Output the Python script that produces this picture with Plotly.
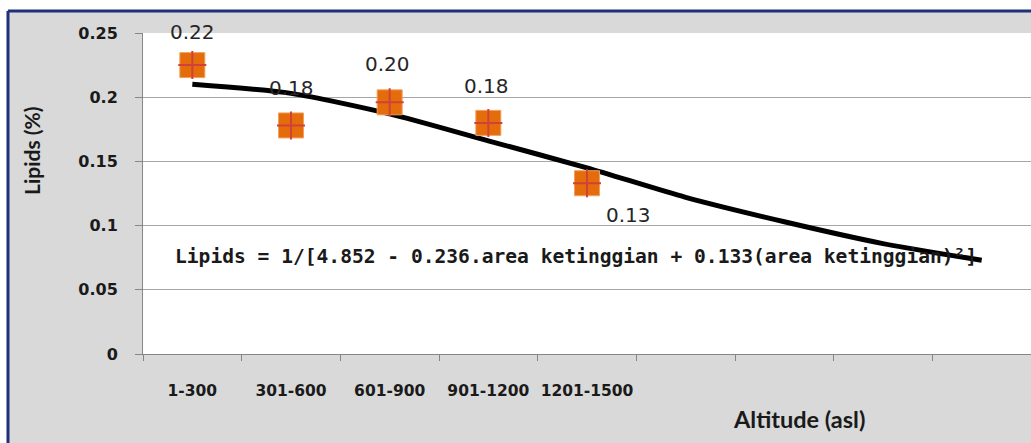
import plotly.graph_objects as go

# ---- data ----
categories = ["1-300", "301-600", "601-900", "901-1200", "1201-1500",
              " ", "  ", "   ", "    "]
observed_cats = ["1-300", "301-600", "601-900", "901-1200", "1201-1500"]
observed_lipids = [0.225, 0.178, 0.196, 0.180, 0.133]
observed_labels = ["0.22", "0.18", "0.20", "0.18", "0.13"]
trend_lipids = [0.210, 0.203, 0.187, 0.166, 0.145, 0.122, 0.103, 0.086, 0.073]
y_ticks = [0, 0.05, 0.1, 0.15, 0.2, 0.25]
equation = "Lipids = 1/[4.852 - 0.236.area ketinggian + 0.133(area ketinggian)²]"

W, H = 1031, 443
L, R, T, B = 143, 0, 33, 89
PW, PH = W - L - R, H - T - B

def px(x):
    return (x - L) / PW

def py(y):
    return (H - B - y) / PH

ORANGE = "#E46C0A"
CROSS = "#D2403A"
GRID = "#A6A6A6"
NAVY = "#1F2F7A"

fig = go.Figure()

fig.add_trace(go.Scatter(
    x=categories, y=trend_lipids, mode="lines",
    line=dict(color="black", width=5, shape="spline", smoothing=0.7),
    hoverinfo="skip", showlegend=False,
))
fig.add_trace(go.Scatter(
    x=observed_cats, y=observed_lipids, mode="markers",
    marker=dict(symbol="square", size=25, color=ORANGE,
                line=dict(color="#F0A060", width=1)),
    showlegend=False,
))
fig.add_trace(go.Scatter(
    x=observed_cats, y=observed_lipids, mode="markers",
    marker=dict(symbol="cross-thin", size=20, line=dict(color=CROSS, width=2)),
    hoverinfo="skip", showlegend=False,
))

# data labels
offsets = [(0, 33), (0, 37), (-2, 38), (-2, 37), (41, -32)]
for c, v, t, (dx, dy) in zip(observed_cats, observed_lipids, observed_labels, offsets):
    fig.add_annotation(x=c, y=v, xref="x", yref="y", text=t, showarrow=False,
                       xshift=dx, yshift=dy,
                       font=dict(family="DejaVu Sans", size=20, color="#262626"))

# equation
fig.add_annotation(x=px(173), y=py(256), xref="paper", yref="paper",
                   xanchor="left", yanchor="middle", showarrow=False,
                   text=equation,
                   font=dict(family="DejaVu Sans Mono", size=19.6, color="#1a1a1a",
                             weight="bold"))

# axis titles
fig.add_annotation(x=px(31), y=py(151), xref="paper", yref="paper",
                   text="Lipids (%)", textangle=-90, showarrow=False,
                   xanchor="center", yanchor="middle",
                   font=dict(family="Lato", size=21, color="#1a1a1a", weight="bold"))
fig.add_annotation(x=px(799), y=py(419), xref="paper", yref="paper",
                   text="Altitude (asl)", showarrow=False,
                   xanchor="center", yanchor="middle",
                   font=dict(family="Lato", size=23.5, color="#1a1a1a", weight="bold"))

# frame: white strips + navy border lines (top & left)
shapes = [
    dict(type="rect", xref="paper", yref="paper", x0=px(-5), x1=px(W + 5),
         y0=py(10), y1=py(-5), fillcolor="white", line=dict(width=0), layer="below"),
    dict(type="rect", xref="paper", yref="paper", x0=px(-5), x1=px(7),
         y0=py(H + 5), y1=py(-5), fillcolor="white", line=dict(width=0), layer="below"),
    dict(type="line", xref="paper", yref="paper", x0=px(8), x1=px(W + 5),
         y0=py(11), y1=py(11), line=dict(color=NAVY, width=3), layer="below"),
    dict(type="line", xref="paper", yref="paper", x0=px(8), x1=px(8),
         y0=py(11), y1=py(H + 5), line=dict(color=NAVY, width=3), layer="below"),
]

fig.update_layout(
    width=W, height=H,
    margin=dict(l=L, r=R, t=T, b=B, pad=0),
    paper_bgcolor="#D9D9D9",
    plot_bgcolor="white",
    shapes=shapes,
    showlegend=False,
    xaxis=dict(
        type="category", categoryorder="array", categoryarray=categories,
        range=[-0.5, len(categories) - 0.5],
        tickson="boundaries", ticks="outside", ticklen=6, tickcolor="#868686",
        showline=True, linecolor="#868686", linewidth=1,
        showgrid=False, zeroline=False, tickangle=0,
        tickfont=dict(family="DejaVu Sans", size=15.5, color="#1a1a1a", weight="bold"),
        ticklabelstandoff=22,
    ),
    yaxis=dict(
        range=[0, 0.25], tickvals=y_ticks,
        ticks="outside", ticklen=7, tickcolor="#868686",
        showline=True, linecolor="#868686", linewidth=1,
        showgrid=True, gridcolor=GRID, gridwidth=1, zeroline=False,
        tickfont=dict(family="DejaVu Sans", size=16, color="#1a1a1a", weight="bold"),
        ticklabelstandoff=14,
    ),
)

fig.write_html("out.html", config={"displayModeBar": False},
               post_script="document.body.style.margin='0';")
